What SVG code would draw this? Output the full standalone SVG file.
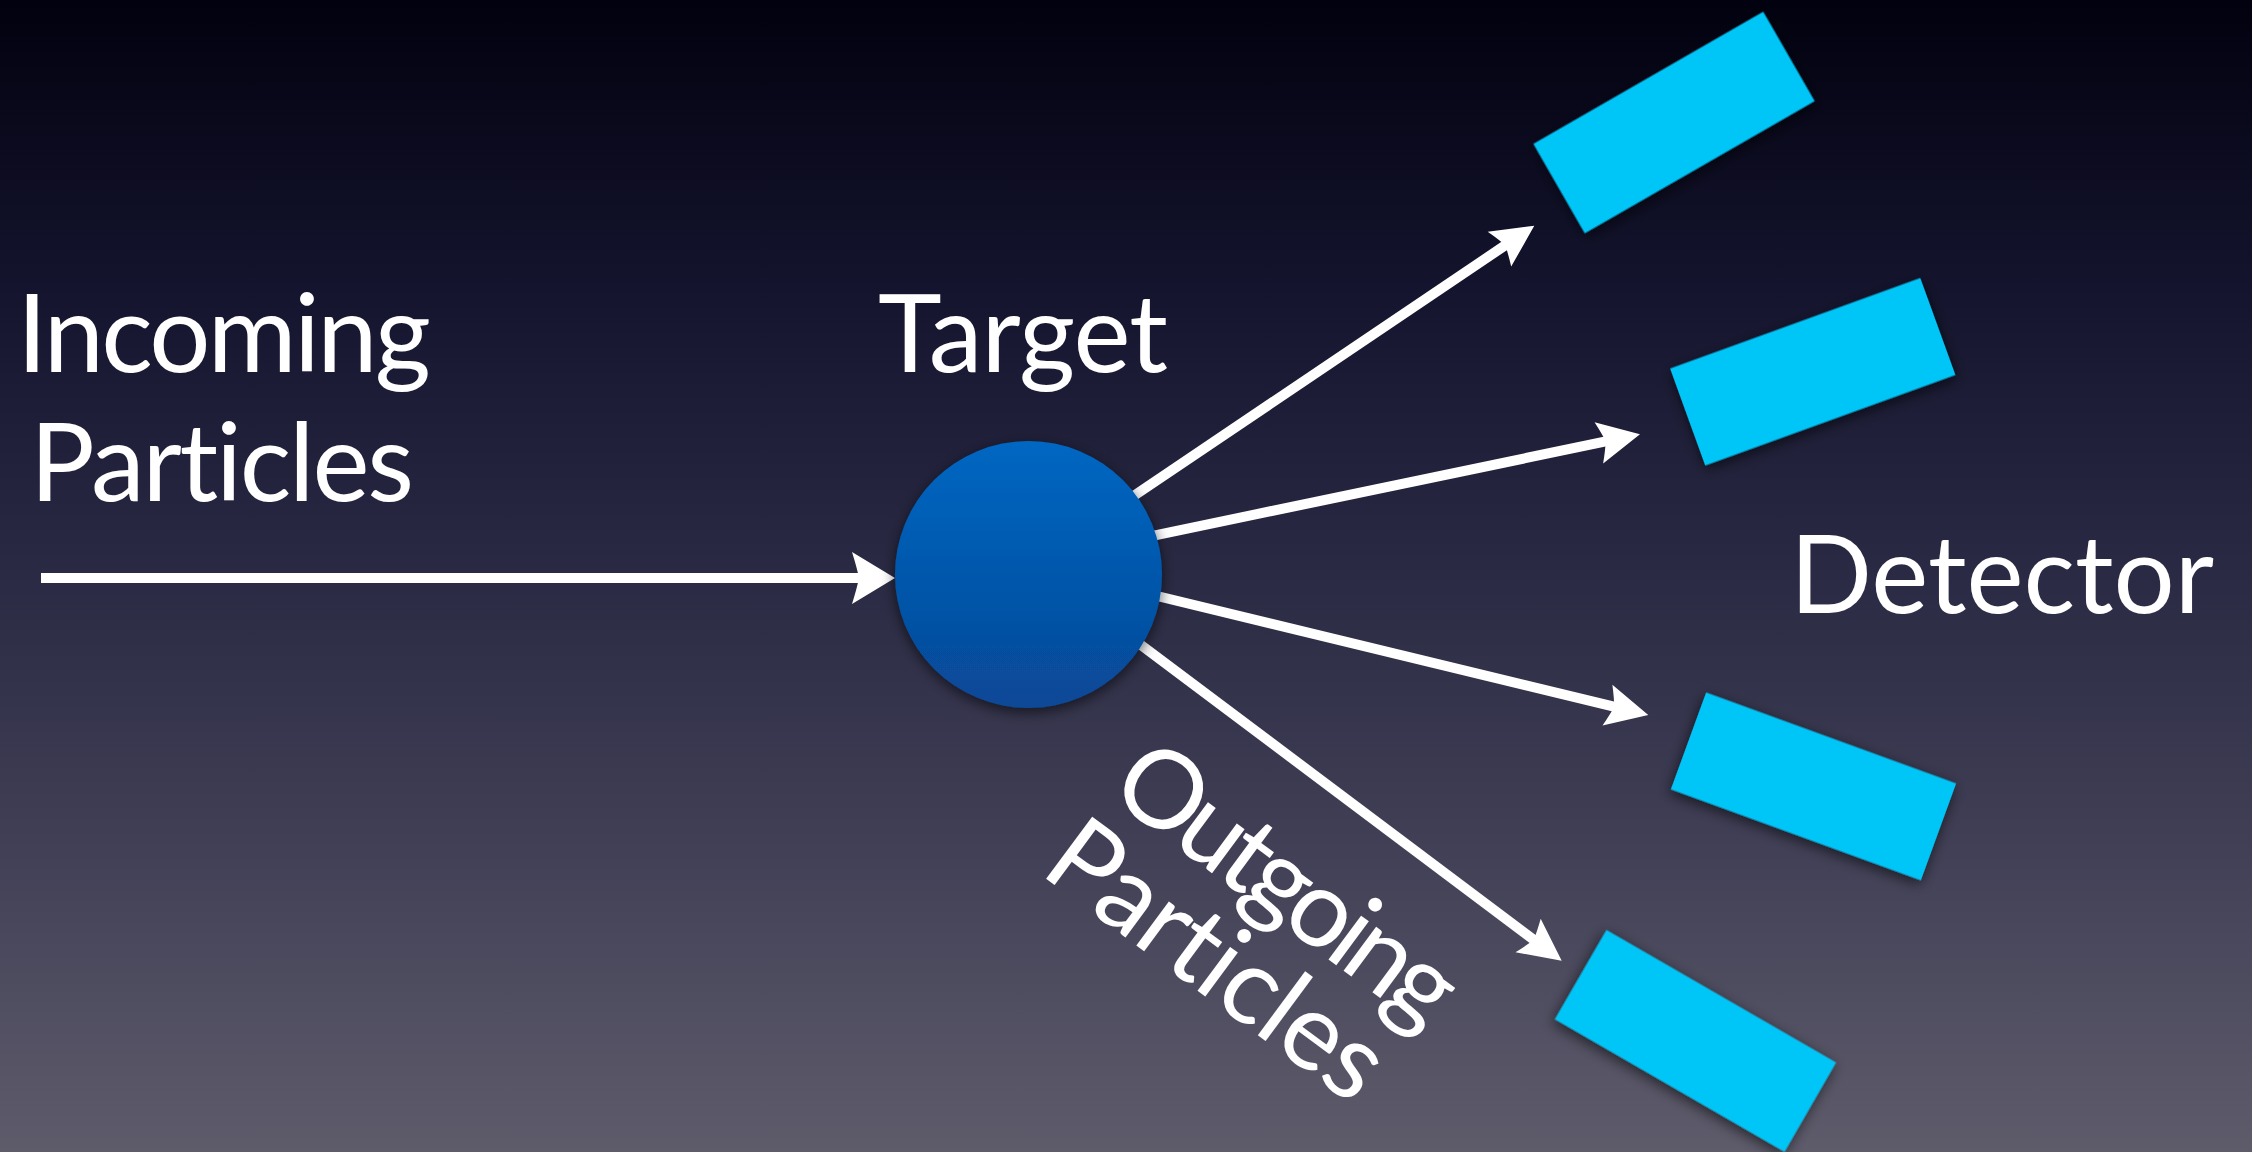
<svg xmlns="http://www.w3.org/2000/svg" width="2252" height="1152" viewBox="0 0 2252 1152">
  <defs>
    <linearGradient id="bg" x1="0" y1="0" x2="0" y2="1">
      <stop offset="0" stop-color="#02010F"/>
      <stop offset="0.25" stop-color="#14142E"/>
      <stop offset="0.5" stop-color="#2A2A44"/>
      <stop offset="0.75" stop-color="#424157"/>
      <stop offset="1" stop-color="#5E5C6B"/>
    </linearGradient>
    <linearGradient id="ball" x1="0" y1="0" x2="0" y2="1">
      <stop offset="0" stop-color="#0067C2"/>
      <stop offset="1" stop-color="#084896"/>
    </linearGradient>
    <filter id="shadow" x="-30%" y="-30%" width="160%" height="160%">
      <feDropShadow dx="0" dy="4" stdDeviation="7" flood-color="#000" flood-opacity="0.6"/>
    </filter>
    <marker id="headIn" markerUnits="userSpaceOnUse" orient="auto" refX="0" refY="0" markerWidth="50" markerHeight="60" overflow="visible">
      <path d="M32 0 L-11 -26 Q-6 -10 -4 0 Q-6 10 -11 26 Z" fill="#fff"/>
    </marker>
    <marker id="headOut" markerUnits="userSpaceOnUse" orient="auto" refX="0" refY="0" markerWidth="50" markerHeight="50" overflow="visible">
      <path d="M30 0 L-12 -21 Q-7 -8 -5 0 Q-7 8 -12 21 Z" fill="#fff"/>
    </marker>
  </defs>
  <style>
    .label { font-family: Lato, "Open Sans", "Liberation Sans", sans-serif; font-size: 108px; fill: #fff;
             font-variant-ligatures: none; font-feature-settings: "liga" 0, "clig" 0; }
    .beam { stroke: #fff; stroke-width: 10; fill: none; }
    .in { marker-end: url(#headIn); }
    .out { marker-end: url(#headOut); }
    .detector { fill: #00C6F8; filter: url(#shadow); }
  </style>

  <rect width="2252" height="1152" fill="url(#bg)"/>

  <!-- particle paths -->
  <g id="connectors">
    <line class="beam in" x1="41" y1="578" x2="863" y2="578"/>
    <line class="beam out" x1="1123.4" y1="502.9" x2="1509.4" y2="242.5"/>
    <line class="beam out" x1="1137.1" y1="539.1" x2="1610.6" y2="440.4"/>
    <line class="beam out" x1="1140.6" y1="592" x2="1619.1" y2="707.9"/>
    <line class="beam out" x1="1127.3" y1="634.7" x2="1537.7" y2="942.7"/>
  </g>

  <g id="target">
    <circle cx="1028.5" cy="574.5" r="133.5" fill="url(#ball)" filter="url(#shadow)"/>
    <text class="label" x="878" y="372" textLength="290" lengthAdjust="spacing">Target</text>
  </g>

  <g id="incoming-label">
    <text class="label" x="17" y="372" textLength="414" lengthAdjust="spacing">Incoming</text>
    <text class="label" x="30" y="501" textLength="384" lengthAdjust="spacing">Particles</text>
  </g>

  <g id="outgoing-label" transform="translate(1050 884) rotate(36.5)">
    <text class="label" x="-8" y="-105" textLength="398" lengthAdjust="spacing">Outgoing</text>
    <text class="label" x="-16" y="-2" textLength="392" lengthAdjust="spacing">Particles</text>
  </g>

  <g id="detector-1">
    <rect class="detector" x="-132.5" y="-51.5" width="265" height="103" transform="translate(1674 122.5) rotate(-29.9)"/>
  </g>
  <g id="detector-2">
    <rect class="detector" x="-133" y="-51.5" width="266" height="103" transform="translate(1812.75 371.75) rotate(-19.9)"/>
  </g>
  <g id="detector-3">
    <rect class="detector" x="-133" y="-51.5" width="266" height="103" transform="translate(1813.5 786.4) rotate(20)"/>
  </g>
  <g id="detector-4">
    <rect class="detector" x="-132.5" y="-51.5" width="265" height="103" transform="translate(1695.5 1040.9) rotate(30)"/>
  </g>

  <g id="detector-label">
    <text class="label" x="1790" y="613" textLength="424" lengthAdjust="spacing">Detector</text>
  </g>
</svg>
